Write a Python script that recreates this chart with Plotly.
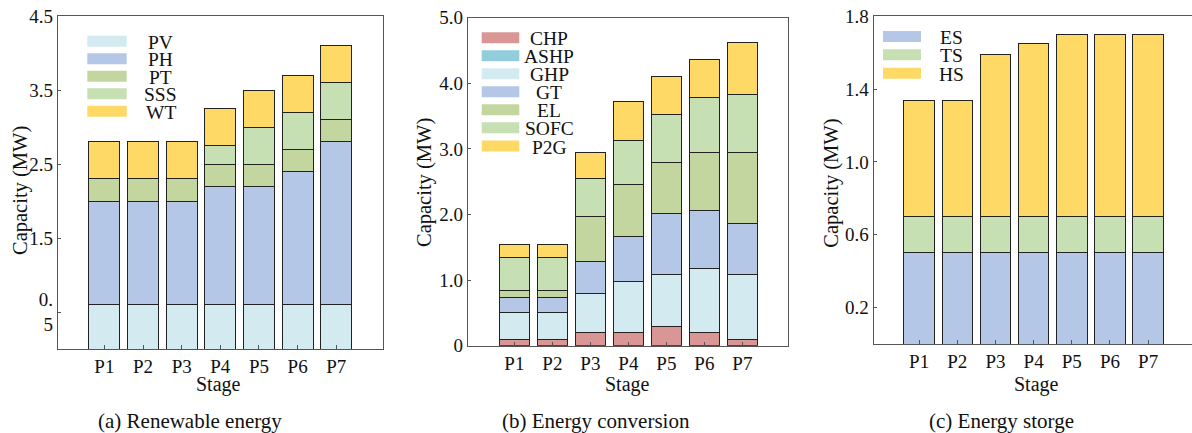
import plotly.graph_objects as go

W, H = 1192, 433
stages = ["P1", "P2", "P3", "P4", "P5", "P6", "P7"]

# (a) Renewable energy (stacked increments, MW)
re_names = ["PV", "PH", "PT", "SSS", "WT"]
re_PV = [0.6, 0.6, 0.6, 0.6, 0.6, 0.6, 0.6]
re_PH = [1.4, 1.4, 1.4, 1.6, 1.6, 1.8, 2.2]
re_PT = [0.3, 0.3, 0.3, 0.3, 0.3, 0.3, 0.3]
re_SSS = [0.0, 0.0, 0.0, 0.25, 0.5, 0.5, 0.5]
re_WT = [0.5, 0.5, 0.5, 0.5, 0.5, 0.5, 0.5]
re_colors = ["#d3ebf0", "#b4c7e7", "#c4d6a0", "#c6e0b4", "#ffd966"]

# (b) Energy conversion
ec_names = ["CHP", "ASHP", "GHP", "GT", "EL", "SOFC", "P2G"]
ec_CHP = [0.1, 0.1, 0.2, 0.2, 0.3, 0.2, 0.1]
ec_ASHP = [0.0, 0.0, 0.0, 0.0, 0.0, 0.0, 0.0]
ec_GHP = [0.4, 0.4, 0.6, 0.78, 0.78, 0.98, 0.98]
ec_GT = [0.24, 0.24, 0.48, 0.69, 0.93, 0.88, 0.78]
ec_EL = [0.1, 0.1, 0.69, 0.79, 0.79, 0.89, 1.09]
ec_SOFC = [0.5, 0.5, 0.58, 0.67, 0.72, 0.83, 0.88]
ec_P2G = [0.2, 0.2, 0.4, 0.6, 0.59, 0.59, 0.79]
ec_colors = ["#d99694", "#92cddc", "#d3ebf0", "#b4c7e7", "#c4d6a0", "#c6e0b4", "#ffd966"]

# (c) Energy storage
es_names = ["ES", "TS", "HS"]
es_ES = [0.5, 0.5, 0.5, 0.5, 0.5, 0.5, 0.5]
es_TS = [0.2, 0.2, 0.2, 0.2, 0.2, 0.2, 0.2]
es_HS = [0.64, 0.64, 0.89, 0.95, 1.0, 1.0, 1.0]
es_colors = ["#b4c7e7", "#c6e0b4", "#ffd966"]

# tick labels
ya_vals = [0.5, 1.5, 2.5, 3.5, 4.5]
ya_text = ["0.<br>5", "1.5", "2.5", "3.5", "4.5"]
yb_vals = [0, 1, 2, 3, 4, 5]
yb_text = ["0", "1.0", "2.0", "3.0", "4.0", "5.0"]
yc_vals = [0.2, 0.6, 1.0, 1.4, 1.8]
yc_text = ["0.2", "0.6", "1.0", "1.4", "1.8"]

captions = ["(a) Renewable energy", "(b) Energy conversion", "(c) Energy storge"]

FONT = "Liberation Serif"
TXT = "#111111"
AX = "#555555"

fig = go.Figure()

panels = [
    (re_names, [re_PV, re_PH, re_PT, re_SSS, re_WT], re_colors, "x", "y"),
    (ec_names, [ec_CHP, ec_ASHP, ec_GHP, ec_GT, ec_EL, ec_SOFC, ec_P2G], ec_colors, "x2", "y2"),
    (es_names, [es_ES, es_TS, es_HS], es_colors, "x3", "y3"),
]
for names, series, colors, xa, ya in panels:
    for n, s, c in zip(names, series, colors):
        fig.add_trace(go.Bar(x=stages, y=s, name=n, marker=dict(color=c, line=dict(color="#222222", width=1)),
                             width=0.8, xaxis=xa, yaxis=ya, showlegend=False))

def px(x):
    return x / W

def py(y):
    return 1 - y / H

# plot boxes in pixels: left, right, top, bottom
boxes = [(58, 383, 16, 349), (468, 788, 17.7, 345.7), (873.7, 1192, 16.3, 344)]
xranges = [[-1.2, 7.21], [-1.22, 7.2], [-1.19, 7.15]]
yranges = [[0, 4.5], [0, 5.0], [0, 1.8]]
yticks = [(ya_vals, ya_text), (yb_vals, yb_text), (yc_vals, yc_text)]

layout = dict(width=W, height=H, margin=dict(l=0, r=0, t=0, b=0, autoexpand=False), barmode="stack",
              plot_bgcolor="white", paper_bgcolor="white", template="none",
              font=dict(family=FONT, size=19, color=TXT), showlegend=False)
for i, ((l, r, t, b), xr, yr, (tv, tt)) in enumerate(zip(boxes, xranges, yranges, yticks)):
    sfx = "" if i == 0 else str(i + 1)
    layout["xaxis" + sfx] = dict(domain=[px(l), px(r)], range=xr, anchor="y" + sfx, automargin=False,
                                 showline=True, linecolor=AX, linewidth=1.2, mirror=True,
                                 ticks="inside", ticklen=4, tickcolor=AX, showgrid=False, zeroline=False,
                                 tickfont=dict(size=19, color=TXT, family=FONT), fixedrange=True)
    layout["yaxis" + sfx] = dict(domain=[py(b), py(t)], range=yr, anchor="x" + sfx, automargin=False,
                                 showline=True, linecolor=AX, linewidth=1.2, mirror=(i < 2),
                                 ticks="inside", ticklen=3, tickcolor=AX, showgrid=False, zeroline=False,
                                 tickvals=tv, ticktext=tt, tickfont=dict(size=19, color=TXT, family=FONT),
                                 fixedrange=True)
fig.update_layout(**layout)

shapes = []
annotations = []

# legends drawn as swatches + centered text
legend_specs = [
    (re_names, re_colors, 87.3, 126.7, 160.5, [41.3, 58.8, 76.3, 93.8, 111.3]),
    (ec_names, ec_colors, 481.7, 519.3, 549.0, [37.7, 55.7, 73.7, 91.7, 109.7, 127.7, 146.0]),
    (es_names, es_colors, 883.0, 921.0, 951.7, [36.5, 54.8, 73.3]),
]
for names, colors, x0, x1, xt, ys in legend_specs:
    for n, c, yc in zip(names, colors, ys):
        shapes.append(dict(type="rect", xref="paper", yref="paper", x0=px(x0), x1=px(x1),
                           y0=py(yc + 5.5), y1=py(yc - 5.5), fillcolor=c, line=dict(width=0)))
        annotations.append(dict(text=n, xref="paper", yref="paper", x=px(xt), y=py(yc + 1),
                                xanchor="center", yanchor="middle", showarrow=False,
                                font=dict(size=19.5, color=TXT, family=FONT)))

# axis titles
for xc, yc in [(20, 191), (425, 183), (831.7, 183)]:
    annotations.append(dict(text="Capacity (MW)", xref="paper", yref="paper", x=px(xc), y=py(yc),
                            xanchor="center", yanchor="middle", textangle=-90, showarrow=False,
                            font=dict(size=20.5, color=TXT, family=FONT)))
for xc in [218.3, 627.5, 1036.8]:
    annotations.append(dict(text="Stage", xref="paper", yref="paper", x=px(xc), y=py(384),
                            xanchor="center", yanchor="middle", showarrow=False,
                            font=dict(size=20, color=TXT, family=FONT)))
for cap, xc in zip(captions, [190, 595.7, 1001]):
    annotations.append(dict(text=cap, xref="paper", yref="paper", x=px(xc), y=py(421),
                            xanchor="center", yanchor="middle", showarrow=False,
                            font=dict(size=21, color=TXT, family=FONT)))

fig.update_layout(shapes=shapes, annotations=annotations)
fig.write_html("out.html")
